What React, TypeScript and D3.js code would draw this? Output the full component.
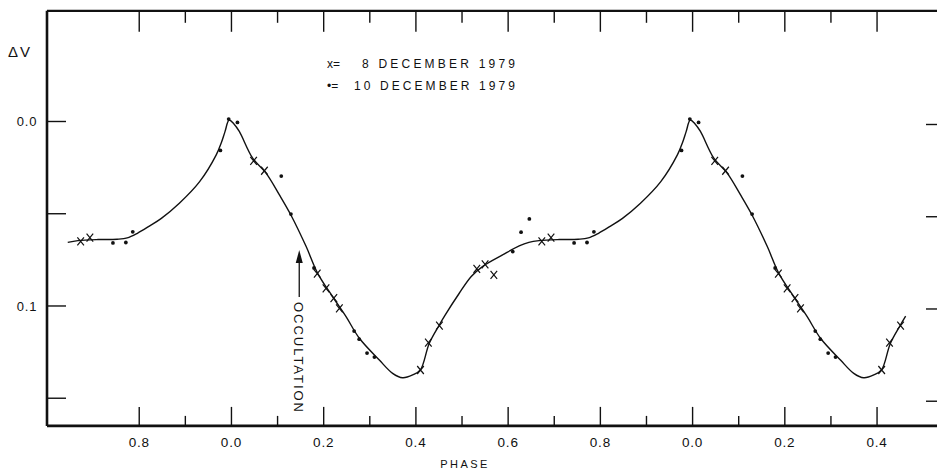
import React from "react";
import * as d3 from "d3";

// phase ticks along the top and bottom, continuous phase (0 = first 0.0)
const phaseTicks = [-0.2, -0.1, 0, 0.1, 0.2, 0.3, 0.4, 0.5, 0.6, 0.7, 0.8, 0.9, 1.0, 1.1, 1.2, 1.3, 1.4];
const phaseMajor = [-0.2, 0, 0.2, 0.4, 0.6, 0.8, 1.0, 1.2, 1.4];
const phaseLabels = ["0.8", "0.0", "0.2", "0.4", "0.6", "0.8", "0.0", "0.2", "0.4"];

const dvTicks = [0, 0.05, 0.1, 0.15];
const dvLabelValues = [0, 0.1];
const dvLabels = ["0.0", "0.1"];

// x = 8 December 1979
const dec8Phase = [0.048, 0.0715, 0.186, 0.205, 0.222, 0.234, 0.41, 0.427, 0.451, 0.532, 0.55, 0.569, 0.673, 0.693];
const dec8Dv = [0.0213, 0.0267, 0.0825, 0.0904, 0.0958, 0.1013, 0.1347, 0.1199, 0.1107, 0.0799, 0.0774, 0.0832, 0.065, 0.063];

// • = 10 December 1979
const dec10Phase = [0.013, 0.108, 0.129, 0.179, 0.266, 0.277, 0.294, 0.31, 0.61, 0.628, 0.646, 0.743, 0.771, 0.786, 0.976, 0.994];
const dec10Dv = [0.0005, 0.0296, 0.0502, 0.0794, 0.1136, 0.118, 0.1255, 0.1277, 0.0705, 0.06, 0.0528, 0.0658, 0.0656, 0.0598, 0.0157, -0.0013];

// hand drawn mean light curve, one period
const curvePhase = [0.005, 0.017, 0.046, 0.075, 0.104, 0.13, 0.162, 0.187, 0.2195, 0.2485, 0.2774, 0.3207, 0.3495, 0.3712, 0.393, 0.4096, 0.429, 0.4507, 0.462, 0.494, 0.52, 0.545, 0.588, 0.624, 0.645, 0.667, 0.711, 0.752, 0.774, 0.796, 0.822, 0.848, 0.887, 0.931, 0.967, 0.978, 0.986, 0.995];
const curveDv = [0.0012, 0.0054, 0.0199, 0.028, 0.0398, 0.0512, 0.0678, 0.0823, 0.095, 0.1058, 0.1175, 0.1293, 0.1365, 0.1389, 0.1374, 0.1347, 0.1202, 0.1103, 0.1055, 0.0931, 0.084, 0.0785, 0.0723, 0.0674, 0.0655, 0.0646, 0.064, 0.0638, 0.0631, 0.0606, 0.0567, 0.0525, 0.0443, 0.0326, 0.0181, 0.0115, 0.0055, -0.0008];

const occultationPhase = 0.147;

const W = 937, H = 472;
const FONT = "'Liberation Sans', Arial, Helvetica, sans-serif";

// each value is shown at every repeat of its phase inside the given range
function unfold(phase: number[], dv: number[], lo: number, hi: number) {
  const out: { t: number; v: number }[] = [];
  phase.forEach((p, i) => {
    [-1, 0, 1].forEach(k => {
      const t = p + k;
      if (t >= lo && t <= hi) out.push({ t, v: dv[i] });
    });
  });
  return out.sort((a, b) => a.t - b.t);
}

export default function App() {
  const x = d3.scaleLinear().domain([-0.4, 1.53]).range([47, 937]);
  const y = d3.scaleLinear().domain([-0.06, 0.165]).range([10.8, 425.9]);

  const top = y(-0.06), bottom = y(0.165), left = x(-0.4);

  const crosses = unfold(dec8Phase, dec8Dv, -0.34, 1.46);
  const dots = unfold(dec10Phase, dec10Dv, -0.34, 1.46);
  const knots = unfold(curvePhase, curveDv, -0.356, 1.4625);

  const line = d3.line<{ t: number; v: number }>()
    .x(d => x(d.t))
    .y(d => y(d.v))
    .curve(d3.curveCatmullRom.alpha(0.5));

  const ax = x(occultationPhase);

  return (
    <svg width={W} height={H} style={{ position: "absolute", left: 0, top: 0, background: "#fff" }} fontFamily={FONT}>
      {/* frame */}
      <line x1={left} x2={W + 5} y1={top} y2={top} stroke="#111" strokeWidth={2.2} />
      <line x1={left} x2={W + 5} y1={bottom} y2={bottom} stroke="#111" strokeWidth={2.6} />
      <line x1={left} x2={left} y1={top} y2={bottom} stroke="#111" strokeWidth={2.6} />

      {/* phase ticks */}
      {phaseTicks.map(t => {
        const major = phaseMajor.some(m => Math.abs(m - t) < 1e-6);
        return (
          <g key={t}>
            <line x1={x(t)} x2={x(t)} y1={top} y2={top + (major ? 21 : 12)} stroke="#111" strokeWidth={1.4} />
            <line x1={x(t)} x2={x(t)} y1={bottom} y2={bottom - (major ? 19 : 10)} stroke="#111" strokeWidth={1.4} />
          </g>
        );
      })}
      {phaseMajor.map((t, i) => (
        <text key={t} x={x(t)} y={447} textAnchor="middle" fontSize={13.5} letterSpacing={0.8} fill="#111">
          {phaseLabels[i]}
        </text>
      ))}
      <text x={465} y={468} textAnchor="middle" fontSize={11} letterSpacing={2.4} fill="#111">PHASE</text>

      {/* dV ticks */}
      {dvTicks.map(v => (
        <g key={v}>
          <line x1={left} x2={left + 19} y1={y(v)} y2={y(v)} stroke="#111" strokeWidth={1.4} />
          <line x1={W - 11} x2={W} y1={y(v) + 3} y2={y(v) + 3} stroke="#111" strokeWidth={1.4} />
        </g>
      ))}
      {dvLabelValues.map((v, i) => (
        <text key={v} x={27} y={y(v) + 5} textAnchor="middle" fontSize={13} letterSpacing={0.8} fill="#111">
          {dvLabels[i]}
        </text>
      ))}
      <text x={8} y={57} fontSize={15} letterSpacing={2} fill="#111">ΔV</text>

      {/* legend */}
      <text x={327} y={68} fontSize={12} fill="#111">x=</text>
      <text x={362} y={68} fontSize={12} fill="#111" textLength={153} lengthAdjust="spacing">8 DECEMBER 1979</text>
      <text x={327} y={90} fontSize={12} fill="#111">•=</text>
      <text x={354} y={90} fontSize={12} fill="#111" textLength={161} lengthAdjust="spacing">10 DECEMBER 1979</text>

      {/* light curve */}
      <path d={line(knots) || ""} fill="none" stroke="#111" strokeWidth={1.4} />

      {/* observations */}
      {crosses.map((d, i) => (
        <path key={"c" + i}
          d={`M${x(d.t) - 3.3},${y(d.v) - 4}L${x(d.t) + 3.3},${y(d.v) + 4}M${x(d.t) + 3.3},${y(d.v) - 4}L${x(d.t) - 3.3},${y(d.v) + 4}`}
          stroke="#111" strokeWidth={1.2} fill="none" />
      ))}
      {dots.map((d, i) => (
        <circle key={"d" + i} cx={x(d.t)} cy={y(d.v)} r={1.9} fill="#111" />
      ))}

      {/* occultation marker */}
      <line x1={ax} x2={ax} y1={258} y2={297} stroke="#111" strokeWidth={1.3} />
      <path d={`M${ax},250L${ax - 3.5},263L${ax + 3.5},263Z`} fill="#111" />
      <text x={0} y={0} transform={`translate(${ax - 5},302) rotate(90)`} fontSize={13} fill="#111"
        textLength={110} lengthAdjust="spacing">OCCULTATION</text>
    </svg>
  );
}
